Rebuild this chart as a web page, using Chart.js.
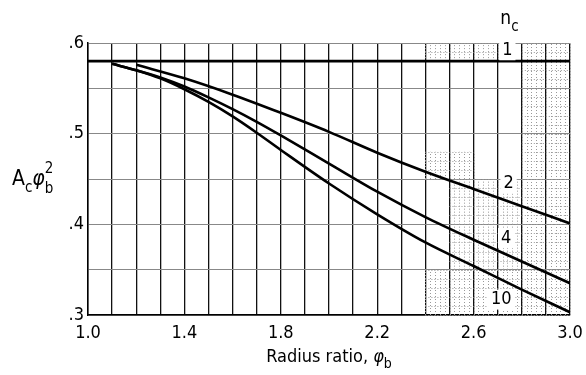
<!DOCTYPE html>
<html>
<head>
<meta charset="utf-8">
<script src="https://cdn.jsdelivr.net/npm/chart.js@4.4.0/dist/chart.umd.min.js"></script>
<style>
  html, body { margin: 0; padding: 0; background: #fff; }
  #wrap { width: 586px; height: 375px; }
</style>
</head>
<body>
<div id="wrap"><canvas id="chart" width="586" height="375"></canvas></div>
<script>
// values
const nc1 = [[1.0, 0.580], [3.0, 0.580]];
const nc2 = [[1.2, 0.576], [1.4, 0.561], [1.6, 0.543], [1.8, 0.523], [2.0, 0.502],
             [2.2, 0.479], [2.4, 0.458], [2.6, 0.439], [2.8, 0.420], [3.0, 0.401]];
const nc4 = [[1.1, 0.577], [1.2, 0.570], [1.3, 0.562], [1.4, 0.552], [1.5, 0.540],
             [1.6, 0.527], [1.7, 0.513], [1.8, 0.498], [2.0, 0.467], [2.2, 0.436],
             [2.4, 0.408], [2.6, 0.383], [2.8, 0.359], [3.0, 0.335]];
const nc10 = [[1.1, 0.577], [1.2, 0.570], [1.3, 0.561], [1.4, 0.549], [1.5, 0.535],
              [1.6, 0.519], [1.7, 0.501], [1.8, 0.482], [2.0, 0.445], [2.2, 0.411],
              [2.4, 0.380], [2.6, 0.354], [2.8, 0.328], [3.0, 0.303]];

// curve labels (data coordinates)
const curveLabels = [
    { text: '1', x: 2.74, y: 0.592 },
    { text: '2', x: 2.745, y: 0.445 },
    { text: '4', x: 2.735, y: 0.385 },
    { text: '10', x: 2.715, y: 0.317 }
];

// patches of fine graph-paper ruling: [xFrom, xTo, yFrom, yTo]
const finePatches = [
    [2.8, 3.0, 0.30, 0.60],
    [2.4, 2.8, 0.30, 0.35],
    [2.5, 2.8, 0.35, 0.45],
    [2.4, 2.6, 0.45, 0.48],
    [2.4, 2.7, 0.58, 0.60]
];

const FONT = '"DejaVu Sans Condensed", "DejaVu Sans", sans-serif';

function toXY(arr) {
    return arr.map(p => ({ x: p[0], y: p[1] }));
}

function curve(arr) {
    return {
        data: toXY(arr),
        borderColor: '#000',
        borderWidth: 2.6,
        pointRadius: 0,
        fill: false,
        cubicInterpolationMode: 'monotone'
    };
}

// faint dotted ruling of the graph paper
const paper = {
    id: 'paper',
    beforeDatasetsDraw(chart) {
        const ctx = chart.ctx;
        const xs = chart.scales.x, ys = chart.scales.y;
        ctx.save();
        ctx.strokeStyle = '#999';
        ctx.lineWidth = 1;
        ctx.setLineDash([1, 2]);
        finePatches.forEach(p => {
            const x0 = xs.getPixelForValue(p[0]), x1 = xs.getPixelForValue(p[1]);
            const y0 = ys.getPixelForValue(p[2]), y1 = ys.getPixelForValue(p[3]);
            ctx.beginPath();
            for (let v = p[0]; v <= p[1] + 1e-9; v += 0.02) {
                const px = Math.round(xs.getPixelForValue(v)) + 0.5;
                ctx.moveTo(px, y0); ctx.lineTo(px, y1);
            }
            for (let v = p[2]; v <= p[3] + 1e-9; v += 0.01) {
                const py = Math.round(ys.getPixelForValue(v)) + 0.5;
                ctx.moveTo(x0, py); ctx.lineTo(x1, py);
            }
            ctx.stroke();
        });
        ctx.restore();
    }
};

// text that Chart.js can't do (sub/superscripts, white-boxed labels)
const annotations = {
    id: 'annotations',
    afterDatasetsDraw(chart) {
        const ctx = chart.ctx;
        const xs = chart.scales.x, ys = chart.scales.y;
        ctx.save();
        ctx.fillStyle = '#000';
        ctx.textBaseline = 'middle';

        // curve labels with white background
        ctx.font = '18px ' + FONT;
        ctx.textAlign = 'center';
        curveLabels.forEach(l => {
            const px = xs.getPixelForValue(l.x);
            const py = ys.getPixelForValue(l.y);
            const w = ctx.measureText(l.text).width + 6;
            ctx.fillStyle = '#fff';
            ctx.fillRect(px - w / 2, py - 10, w, 20);
            ctx.fillStyle = '#000';
            ctx.fillText(l.text, px, py);
        });

        // n_c header
        const hx = xs.getPixelForValue(2.74);
        const hy = chart.chartArea.top - 24;
        ctx.font = '19px ' + FONT;
        ctx.textAlign = 'left';
        ctx.fillText('n', hx - 7, hy);
        ctx.font = '15px ' + FONT;
        ctx.fillText('c', hx + 4, hy + 8);

        // y axis title: A_c phi_b^2
        let x = 12;
        const yMid = 180;
        ctx.font = '21px ' + FONT;
        ctx.fillText('A', x, yMid);
        x += ctx.measureText('A').width;
        ctx.font = '15px ' + FONT;
        ctx.fillText('c', x, yMid + 8);
        x += ctx.measureText('c').width;
        ctx.font = 'italic 21px ' + FONT;
        ctx.fillText('φ', x, yMid);
        x += ctx.measureText('φ').width;
        ctx.font = '15px ' + FONT;
        ctx.fillText('b', x, yMid + 9);
        ctx.fillText('2', x, yMid - 11);

        // x axis title
        ctx.font = '18px ' + FONT;
        const t1 = 'Radius ratio, ';
        const w1 = ctx.measureText(t1).width;
        ctx.font = 'italic 18px ' + FONT;
        const w2 = ctx.measureText('φ').width;
        const total = w1 + w2 + 8;
        let tx = (chart.chartArea.left + chart.chartArea.right) / 2 - total / 2;
        const ty = 357;
        ctx.font = '18px ' + FONT;
        ctx.fillText(t1, tx, ty);
        tx += w1;
        ctx.font = 'italic 18px ' + FONT;
        ctx.fillText('φ', tx, ty);
        tx += w2;
        ctx.font = '14px ' + FONT;
        ctx.fillText('b', tx, ty + 7);
        ctx.restore();
    }
};

new Chart(document.getElementById('chart').getContext('2d'), {
    type: 'line',
    data: {
        datasets: [curve(nc1), curve(nc2), curve(nc4), curve(nc10)]
    },
    options: {
        responsive: false,
        animation: false,
        layout: { padding: { left: 0, right: 0, top: 43, bottom: 0 } },
        plugins: {
            legend: { display: false },
            tooltip: { enabled: false }
        },
        scales: {
            x: {
                type: 'linear',
                min: 1.0,
                max: 3.0,
                border: { color: '#000', width: 1.5 },
                grid: { color: '#111', lineWidth: 1.3, drawTicks: false },
                ticks: {
                    stepSize: 0.1,
                    autoSkip: false,
                    maxRotation: 0,
                    padding: 8,
                    color: '#000',
                    font: { family: FONT, size: 18 },
                    callback: v => (Math.round(v * 10) % 4 === 2 ? (v.toFixed(1)) : '')
                },
                afterFit: s => {
                    s.height = 60;
                    s.paddingLeft = 0;
                    s.paddingRight = 16;
                }
            },
            y: {
                min: 0.3,
                max: 0.6,
                border: { color: '#000', width: 1.5 },
                grid: { color: '#888', lineWidth: 1, drawTicks: false },
                ticks: {
                    stepSize: 0.05,
                    autoSkip: false,
                    padding: 4,
                    color: '#000',
                    font: { family: FONT, size: 18 },
                    callback: v => (Math.round(v * 100) % 10 === 0 ? '.' + Math.round(v * 10) : '')
                },
                afterFit: s => {
                    s.width = 88;
                    s.paddingTop = 0;
                    s.paddingBottom = 0;
                }
            }
        }
    },
    plugins: [paper, annotations]
});
</script>
</body>
</html>
